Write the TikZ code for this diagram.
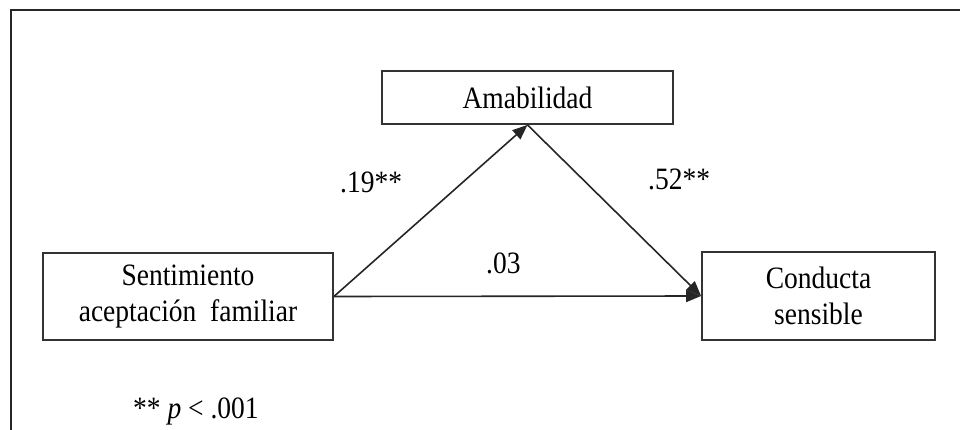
\documentclass[tikz,border=0pt]{standalone}
\usepackage{fontspec}
\setmainfont{Liberation Serif}
\usetikzlibrary{arrows.meta}
\newcommand{\vst}[1]{\scalebox{1}[1.13]{#1}}
\begin{document}
\begin{tikzpicture}[x=1pt,y=-1pt,
  txt/.style={font=\fontsize{27.5}{36}\selectfont, text=black},
  varbox/.style={txt, draw=black!80, line width=1.8pt, align=center, inner sep=0pt},
  path/.style={draw=black!85, line width=1.6pt, -{Triangle[length=15pt,width=12pt]}},
  coef/.style={txt, anchor=base west, inner sep=0pt}]
\useasboundingbox (0,0) rectangle (960,430);
\draw[line width=2.6pt, black!85] (11,430) -- (11,10) -- (960,10);
\node[varbox, minimum width=291pt, minimum height=53pt] (amab) at (527.5,97.5) {\vst{Amabilidad}};
\node[varbox, minimum width=290pt, minimum height=87pt] (sent) at (188,296.5) {\vst{Sentimiento}\\\vst{aceptación\ \ familiar}};
\node[varbox, minimum width=233pt, minimum height=88pt] (cond) at (818.5,296) {\vst{Conducta}\\\vst{sensible}};
\draw[path] (sent.east) -- (amab.south);
\draw[path] (amab.south) -- (cond.west);
\draw[path] (sent.east) -- (cond.west);
\node[coef] (c1) at (340,193) {\vst{.19**}};
\node[coef] (c2) at (486,273) {\vst{.03}};
\node[coef] (c3) at (648,190) {\vst{.52**}};
\node[coef] (note) at (133,418) {\vst{** \textit{p} < .001}};
\end{tikzpicture}
\end{document}
